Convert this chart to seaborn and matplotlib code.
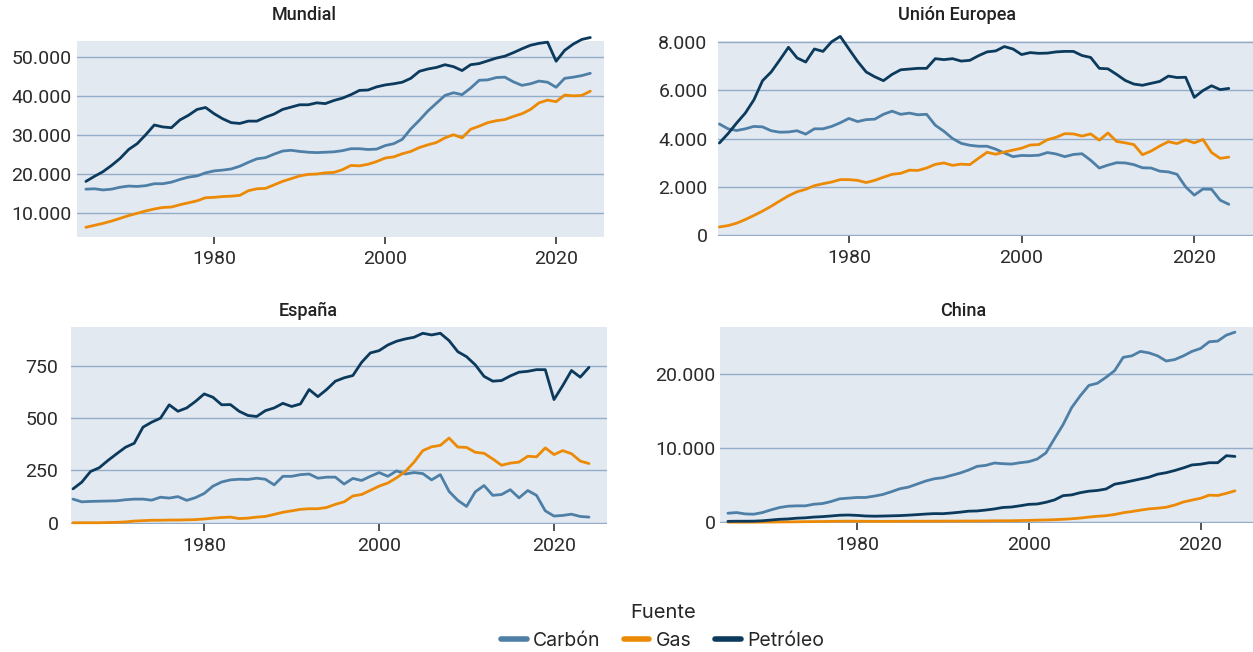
import matplotlib
matplotlib.use("Agg")
import matplotlib.pyplot as plt
from matplotlib.lines import Line2D
from matplotlib.ticker import FuncFormatter
import seaborn as sns
import pandas as pd

# Consumo de energía primaria por fuente (TWh), 1965-2024
years = list(range(1965, 2025))
fuentes = ["Carbón", "Gas", "Petróleo"]

mundial_carbon = [
    16100, 16200, 15900, 16100, 16600, 16900, 16800, 17000, 17500, 17500,
    17900, 18600, 19200, 19500, 20300, 20800, 21000, 21300, 22000, 23000,
    23900, 24200, 25100, 25900, 26100, 25800, 25600, 25500, 25600, 25700,
    26000, 26500, 26500, 26300, 26400, 27300, 27800, 28900, 31600, 33800,
    36200, 38200, 40200, 40900, 40400, 42100, 44100, 44200, 44800, 44900,
    43700, 42800, 43200, 43900, 43600, 42300, 44600, 44900, 45300, 45900]
mundial_gas = [
    6300, 6800, 7300, 7900, 8600, 9300, 9900, 10500, 11000, 11400,
    11500, 12100, 12600, 13100, 13900, 14000, 14200, 14300, 14500, 15700,
    16200, 16300, 17200, 18100, 18800, 19500, 19900, 20000, 20300, 20400,
    21100, 22200, 22100, 22500, 23200, 24100, 24400, 25200, 25800, 26800,
    27500, 28100, 29300, 30100, 29300, 31500, 32300, 33200, 33700, 34000,
    34800, 35500, 36600, 38300, 39000, 38600, 40300, 40100, 40200, 41300]
mundial_petroleo = [
    18100, 19400, 20600, 22200, 24000, 26300, 27800, 30100, 32600, 32100,
    31900, 33900, 35100, 36600, 37100, 35500, 34200, 33200, 33000, 33600,
    33600, 34600, 35400, 36600, 37200, 37800, 37800, 38300, 38100, 38900,
    39500, 40400, 41500, 41600, 42400, 42900, 43200, 43600, 44600, 46400,
    47000, 47400, 48100, 47600, 46600, 48100, 48400, 49100, 49800, 50300,
    51200, 52200, 53100, 53600, 53900, 49000, 51800, 53400, 54600, 55100]

ue_carbon = [
    4600, 4400, 4330, 4400, 4500, 4480, 4320, 4260, 4270, 4320,
    4180, 4400, 4400, 4500, 4650, 4830, 4700, 4780, 4800, 5000,
    5130, 5000, 5050, 4980, 5000, 4550, 4300, 4000, 3800, 3720,
    3680, 3680, 3560, 3400, 3250, 3300, 3290, 3310, 3420, 3360,
    3250, 3340, 3370, 3100, 2780, 2900, 3000, 2990, 2920, 2790,
    2780, 2650, 2620, 2520, 2000, 1660, 1910, 1900, 1450, 1280]
ue_gas = [
    344, 400, 500, 650, 820, 1000, 1200, 1420, 1630, 1800,
    1900, 2050, 2130, 2200, 2300, 2300, 2270, 2180, 2270, 2400,
    2520, 2560, 2690, 2680, 2780, 2930, 2990, 2890, 2940, 2920,
    3180, 3430, 3350, 3440, 3520, 3600, 3730, 3750, 3950, 4050,
    4200, 4190, 4100, 4190, 3930, 4230, 3880, 3820, 3750, 3330,
    3480, 3690, 3870, 3790, 3940, 3820, 3960, 3420, 3180, 3230]
ue_petroleo = [
    3814, 4200, 4640, 5050, 5600, 6390, 6750, 7250, 7770, 7330,
    7160, 7700, 7600, 8000, 8220, 7700, 7190, 6750, 6550, 6390,
    6650, 6840, 6870, 6900, 6900, 7300, 7260, 7300, 7200, 7230,
    7420, 7580, 7620, 7800, 7700, 7470, 7550, 7520, 7530, 7580,
    7600, 7600, 7430, 7350, 6900, 6880, 6650, 6400, 6250, 6200,
    6280, 6360, 6580, 6520, 6530, 5700, 5980, 6180, 6020, 6070]

espana_carbon = [
    113, 100, 102, 103, 104, 105, 110, 113, 113, 108,
    122, 118, 125, 107, 120, 140, 175, 195, 205, 208,
    207, 213, 208, 181, 222, 222, 230, 233, 213, 218,
    218, 185, 212, 202, 222, 240, 222, 248, 233, 240,
    235, 205, 230, 150, 107, 78, 148, 178, 131, 135,
    158, 119, 154, 131, 57, 32, 35, 41, 30, 27]
espana_gas = [
    0, 0, 0, 0, 1, 2, 4, 8, 10, 12,
    12, 13, 13, 14, 15, 18, 22, 25, 27, 20,
    22, 27, 30, 40, 50, 57, 64, 67, 67, 73,
    88, 100, 128, 135, 155, 175, 190, 215, 245, 290,
    345, 363, 370, 405, 362, 360, 337, 332, 305, 275,
    285, 290, 318, 315, 358, 326, 345, 330, 295, 283]
espana_petroleo = [
    162, 194, 245, 263, 298, 330, 361, 380, 457, 481,
    500, 564, 533, 549, 580, 616, 600, 564, 565, 533,
    513, 508, 536, 549, 571, 556, 568, 637, 603, 637,
    677, 693, 704, 767, 812, 823, 850, 868, 879, 887,
    906, 898, 906, 871, 818, 794, 755, 700, 677, 680,
    702, 720, 724, 732, 732, 589, 656, 728, 696, 743]

china_carbon = [
    1220, 1310, 1130, 1090, 1310, 1670, 1990, 2170, 2220, 2220,
    2440, 2530, 2800, 3170, 3260, 3350, 3350, 3530, 3750, 4120,
    4530, 4750, 5160, 5570, 5880, 6020, 6340, 6650, 7060, 7560,
    7690, 8010, 7920, 7870, 8050, 8190, 8550, 9370, 11300, 13200,
    15500, 17100, 18500, 18800, 19600, 20500, 22300, 22500, 23100, 22900,
    22500, 21800, 22000, 22500, 23100, 23500, 24400, 24500, 25300, 25700]
china_gas = [
    10, 12, 14, 15, 20, 30, 40, 50, 60, 80,
    90, 100, 120, 140, 150, 140, 130, 120, 120, 125,
    130, 140, 140, 145, 150, 155, 160, 160, 170, 175,
    180, 200, 200, 210, 230, 250, 290, 310, 350, 400,
    470, 570, 700, 810, 890, 1050, 1290, 1450, 1640, 1810,
    1900, 2030, 2330, 2740, 3000, 3240, 3660, 3620, 3910, 4250]
china_petroleo = [
    120, 140, 140, 150, 200, 300, 400, 450, 550, 600,
    700, 760, 850, 950, 980, 930, 850, 820, 840, 870,
    900, 960, 1030, 1110, 1170, 1160, 1250, 1360, 1500, 1530,
    1650, 1800, 2000, 2060, 2230, 2420, 2470, 2700, 3020, 3600,
    3700, 4000, 4200, 4300, 4500, 5150, 5350, 5600, 5850, 6100,
    6500, 6700, 7000, 7350, 7750, 7850, 8050, 8050, 9000, 8900]

x_ticks = [1980, 2000, 2020]
mundial_yticks = [10000, 20000, 30000, 40000, 50000]
ue_yticks = [0, 2000, 4000, 6000, 8000]
espana_yticks = [0, 250, 500, 750]
china_yticks = [0, 10000, 20000]

series = {
    "Mundial": [mundial_carbon, mundial_gas, mundial_petroleo],
    "Unión Europea": [ue_carbon, ue_gas, ue_petroleo],
    "España": [espana_carbon, espana_gas, espana_petroleo],
    "China": [china_carbon, china_gas, china_petroleo],
}

filas = []
for region, listas in series.items():
    for fuente, valores in zip(fuentes, listas):
        for anio, v in zip(years, valores):
            filas.append((region, fuente, anio, v))
df = pd.DataFrame(filas, columns=["region", "fuente", "anio", "valor"])

colores = {"Carbón": "#4e7fa6", "Gas": "#ec8a06", "Petróleo": "#0b3a5c"}

sns.set_style("white")
plt.rcParams["font.family"] = ["Roboto", "DejaVu Sans"]

W, H = 1253, 652
fig = plt.figure(figsize=(W / 100, H / 100), dpi=100)

# posición de cada panel en píxeles: izquierda, derecha, arriba, abajo
paneles = {
    "Mundial": dict(px=(77, 604, 41, 237), xlim=(1963.96, 2025.6), ylim=(3800, 54200),
                    yticks=mundial_yticks, ypad=4, title=(304, 15)),
    "Unión Europea": dict(px=(718, 1253, 41, 236), xlim=(1964.84, 2026.8), ylim=(-30, 8030),
                          yticks=ue_yticks, ypad=7.5, title=(957, 15)),
    "España": dict(px=(71, 607, 327, 524), xlim=(1964.77, 2026.06), ylim=(-6, 936),
                   yticks=espana_yticks, ypad=9, title=(308, 311)),
    "China": dict(px=(720, 1253, 327, 523), xlim=(1964.08, 2026.1), ylim=(-100, 26400),
                  yticks=china_yticks, ypad=3, title=(963, 311)),
}

fmt = FuncFormatter(lambda v, p: f"{v:,.0f}".replace(",", "."))

for region, cfg in paneles.items():
    l, r, t, b = cfg["px"]
    ax = fig.add_axes([l / W, 1 - b / H, (r - l) / W, (b - t) / H])
    ax.set_facecolor("#e2e9f1")
    sns.lineplot(data=df[df["region"] == region], x="anio", y="valor", hue="fuente",
                 hue_order=fuentes, palette=colores, linewidth=2, legend=False, ax=ax)
    for ln in ax.lines:
        ln.set_clip_on(False)
    ax.set_xlim(*cfg["xlim"])
    ax.set_ylim(*cfg["ylim"])
    ax.set_xticks(x_ticks)
    ax.set_yticks(cfg["yticks"])
    ax.yaxis.set_major_formatter(fmt)
    ax.grid(axis="y", color="#93adc9", linewidth=1)
    ax.grid(axis="x", visible=False)
    ax.set_axisbelow(True)
    for s in ax.spines.values():
        s.set_visible(False)
    ax.tick_params(axis="x", bottom=True, length=5, width=1.2, color="#333333",
                   pad=4.5, labelsize=14, labelcolor="#2b2b2b")
    ax.tick_params(axis="y", left=False, length=0, pad=cfg["ypad"], labelsize=14,
                   labelcolor="#2b2b2b")
    ax.set_xlabel("")
    ax.set_ylabel("")
    tx, ty = cfg["title"]
    fig.text(tx / W, 1 - ty / H, region, ha="center", va="center", fontsize=13,
             fontweight="medium", color="#222222")

handles = [Line2D([0], [0], color=colores[f], lw=4, solid_capstyle="round") for f in fuentes]
fig.legend(handles, fuentes, title="Fuente", loc="upper center",
           bbox_to_anchor=(0.529, 0.088), ncol=3, frameon=False,
           prop={"family": "Inter", "size": 14},
           title_fontproperties={"family": "Inter", "size": 14.5},
           handlelength=1.3, handletextpad=0.35, columnspacing=1.2, borderpad=0)

fig.savefig("out.png", dpi=100)
